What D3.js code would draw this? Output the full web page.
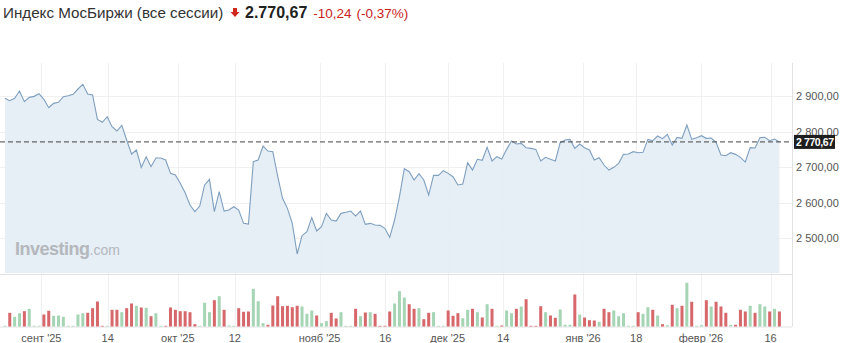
<!DOCTYPE html>
<html>
<head>
<meta charset="utf-8">
<script src="https://cdn.jsdelivr.net/npm/d3@7"></script>
<style>
  body { margin: 0; background: #fff; }
  svg { display: block; font-family: "Liberation Sans", Arial, sans-serif; }
</style>
</head>
<body>
<svg id="chart" width="843" height="343"></svg>
<script>
// closing values per session (index 0 .. 159)
var closes = [
  2893.4, 2886.8, 2893.4, 2914.0, 2884.0, 2896.2, 2899.0, 2906.5, 2890.6, 2867.1,
  2879.3, 2882.1, 2898.1, 2900.9, 2904.7, 2919.7, 2932.8, 2905.6, 2902.8, 2834.2,
  2825.8, 2841.7, 2813.6, 2801.4, 2817.3, 2776.0, 2736.6, 2747.8, 2699.0, 2729.1,
  2700.9, 2725.3, 2725.3, 2719.7, 2682.1, 2677.4, 2654.0, 2627.6, 2592.9, 2574.1,
  2590.1, 2649.3, 2665.2, 2574.1, 2630.5, 2576.0, 2578.8, 2588.2, 2578.8, 2541.3,
  2539.4, 2715.0, 2719.7, 2759.1, 2745.0, 2743.1, 2674.6, 2611.7, 2583.5, 2541.3,
  2454.9, 2506.5, 2517.8, 2557.2, 2519.7, 2531.9, 2569.4, 2550.7, 2547.8, 2569.4,
  2572.3, 2576.0, 2561.9, 2576.0, 2538.4, 2541.3, 2536.6, 2535.6, 2527.2, 2501.8,
  2550.7, 2616.4, 2695.3, 2686.8, 2663.3, 2681.2, 2663.3, 2621.1, 2676.5, 2676.5,
  2689.6, 2682.1, 2672.7, 2649.3, 2652.1, 2712.2, 2691.5, 2721.6, 2719.0, 2755.4,
  2716.9, 2729.1, 2722.5, 2749.7, 2773.2, 2764.7, 2766.6, 2754.4, 2752.5, 2749.7,
  2716.9, 2727.2, 2721.6, 2716.9, 2768.5, 2776.0, 2777.9, 2752.5, 2764.7, 2754.4,
  2747.8, 2719.7, 2726.2, 2705.6, 2691.5, 2699.0, 2710.3, 2735.6, 2736.6, 2743.1,
  2740.3, 2741.3, 2777.9, 2774.1, 2787.3, 2779.8, 2792.0, 2761.9, 2783.5, 2780.7,
  2818.3, 2777.9, 2782.6, 2788.2, 2780.7, 2781.5, 2769.4, 2733.8, 2731.9, 2740.3,
  2735.6, 2727.2, 2714.0, 2754.4, 2753.5, 2782.6, 2783.5, 2774.1, 2778.8, 2770.67
];

// relative volume per session
var volumes = [
  0.7, 13.7, 9.7, 13.3, 15.3, 17.7, 0.7, 0.7, 12, 15.7,
  10.7, 11, 9.7, 0.7, 0.7, 12, 13.3, 13.7, 18.3, 25,
  0.7, 0.7, 16.7, 16.7, 14.3, 18.3, 23, 20.7, 19, 18.7,
  10.3, 13.3, 0.7, 0.7, 19, 16.7, 15.3, 15.3, 14.3, 2.3,
  0.7, 23.7, 14.3, 26.3, 30.3, 16.7, 1, 0.7, 18.3, 14.7,
  15, 37.7, 25.3, 3.3, 1.7, 21, 30.3, 20.3, 20.7, 19.3,
  20.7, 20, 12.7, 16, 11, 3.3, 5.3, 13.7, 8, 14.3,
  0.7, 0.7, 17.7, 10.3, 14, 14.3, 12.7, 0.7, 0.7, 15,
  23, 35.3, 29, 22.3, 17.7, 18.3, 7.3, 13.7, 14.3, 0.7,
  0.7, 16, 10.7, 13.3, 8.3, 16.7, 17.7, 14.3, 9, 22.3,
  17.7, 0.7, 1, 16, 13.3, 17.7, 20, 27.3, 0.7, 0.7,
  20.3, 14.3, 11, 8.7, 17, 1.7, 1.7, 32, 12, 9,
  6.3, 6, 4.7, 17.7, 14.3, 16, 10.3, 13.3, 0.7, 0.7,
  14.3, 12.7, 19.3, 16.7, 11, 2.3, 1.3, 21.7, 18.3, 20.7,
  43.7, 24.7, 0.7, 1.3, 26.3, 20, 24.7, 20, 13.7, 1.7,
  1.7, 16.7, 15, 20.7, 13.7, 22.3, 20, 15, 17.7, 15
];

var tickLabels = ["сент '25", "14", "окт '25", "12", "нояб '25", "16", "дек '25", "14", "янв '26", "18", "февр '26", "16"];
var tickPos = [7.5, 21.1, 35.5, 47.2, 64.6, 78.1, 90.9, 102.3, 118.7, 129.6, 142.9, 157.2];

var priceTicks = [2500, 2600, 2700, 2800, 2900];
var lastPrice = 2770.67;
var change = -10.24;
var changePct = -0.37;

var svg = d3.select("#chart");
var axisX = 792, plotBottom = 273, volBase = 326.5;

var x = d3.scaleLinear().domain([0, closes.length - 1]).range([4.9, 779.4]);
var y = d3.scaleLinear().domain([2500, 2900]).range([238, 96]);
var yv = d3.scaleLinear().domain([0, 44]).range([volBase, volBase - 44]);

var ru = d3.formatLocale({decimal: ",", thousands: " ", grouping: [3], currency: ["", ""]});
var fmtAxis = ru.format(",.2f");
var ruHead = d3.formatLocale({decimal: ",", thousands: ".", grouping: [3], currency: ["", ""], minus: "-"});
var fmtHead = ruHead.format(",.2f");

// header
svg.append("text").attr("x", 3).attr("y", 18).attr("font-size", 15.2).attr("fill", "#333")
  .text("Индекс МосБиржи (все сессии)");
svg.append("path")
  .attr("d", "M233,8 h4 v4 h2.5 l-4.5,5 l-4.5,-5 h2.5 z")
  .attr("fill", "#d0281e");
var head2 = svg.append("text").attr("x", 245).attr("y", 18).attr("font-size", 16);
head2.append("tspan").attr("font-weight", "bold").attr("fill", "#222").text(fmtHead(lastPrice));
head2.append("tspan").attr("dx", 6).attr("font-size", 13.5).attr("fill", "#c8231c").text(fmtHead(change));
head2.append("tspan").attr("dx", 5).attr("font-size", 13.5).attr("fill", "#c8231c").text("(" + fmtHead(changePct) + "%)");

// grid
svg.append("g").selectAll("line").data(priceTicks).enter().append("line")
  .attr("x1", 0).attr("x2", axisX)
  .attr("y1", function(d) { return Math.round(y(d)) + 0.5; })
  .attr("y2", function(d) { return Math.round(y(d)) + 0.5; })
  .attr("stroke", "#f0f0f0");
svg.append("g").selectAll("line").data(tickPos).enter().append("line")
  .attr("x1", function(d) { return Math.round(x(d)) + 0.5; })
  .attr("x2", function(d) { return Math.round(x(d)) + 0.5; })
  .attr("y1", 63).attr("y2", volBase)
  .attr("stroke", "#f0f0f0");

// area + line
var area = d3.area()
  .x(function(d, i) { return x(i); })
  .y0(plotBottom)
  .y1(function(d) { return y(d); });
svg.append("path").datum(closes).attr("d", area).attr("fill", "#e3ecf5").attr("opacity", 0.9);
var line = d3.line()
  .x(function(d, i) { return x(i); })
  .y(function(d) { return y(d); });
svg.append("path").datum(closes).attr("d", line)
  .attr("fill", "none").attr("stroke", "#7f9fbe").attr("stroke-width", 1.1);

// watermark
var wm = svg.append("text").attr("x", 15).attr("y", 255).attr("fill", "#b4b8bc");
wm.append("tspan").attr("font-size", 18).attr("font-weight", "bold").attr("letter-spacing", -0.5).text("Investing");
wm.append("tspan").attr("font-size", 14).text(".com");

// panel lines
svg.append("line").attr("x1", 0).attr("x2", axisX).attr("y1", plotBottom + 1.5).attr("y2", plotBottom + 1.5)
  .attr("stroke", "#e2e2e2");
svg.append("line").attr("x1", 0).attr("x2", axisX).attr("y1", volBase + 0.5).attr("y2", volBase + 0.5)
  .attr("stroke", "#e2e2e2");
svg.append("line").attr("x1", axisX + 0.5).attr("x2", axisX + 0.5).attr("y1", 63).attr("y2", volBase)
  .attr("stroke", "#e2e2e2");

// volume bars
svg.append("g").selectAll("rect").data(volumes).enter().append("rect")
  .attr("x", function(d, i) { return x(i) - 1.5; })
  .attr("width", 3)
  .attr("y", function(d) { return yv(d); })
  .attr("height", function(d) { return volBase - yv(d); })
  .attr("fill", function(d, i) {
    return i > 0 && closes[i] < closes[i - 1] ? "#d6676b" : "#a5d5b5";
  });

// dashed last price
svg.append("line").attr("x1", 0).attr("x2", axisX)
  .attr("y1", y(lastPrice)).attr("y2", y(lastPrice))
  .attr("stroke", "#444").attr("stroke-dasharray", "5,3");

// right axis
var yAxis = d3.axisRight(y).tickValues(priceTicks).tickSize(0).tickPadding(4).tickFormat(fmtAxis);
var ga = svg.append("g").attr("transform", "translate(" + axisX + ",0)").call(yAxis);
ga.select(".domain").remove();
ga.selectAll("text").attr("font-size", 11).attr("fill", "#555").attr("font-family", "Liberation Sans, Arial, sans-serif");

// last price tag
svg.append("rect").attr("x", axisX + 2).attr("y", y(lastPrice) - 7).attr("width", 41).attr("height", 14).attr("fill", "#1e1e1e");
svg.append("text").attr("x", axisX + 4).attr("y", y(lastPrice) + 4)
  .attr("font-size", 10.5).attr("font-weight", "bold").attr("letter-spacing", -0.4)
  .attr("fill", "#fff").text(fmtAxis(lastPrice));

// x labels
svg.append("g").selectAll("text").data(tickPos).enter().append("text")
  .attr("x", function(d) { return x(d); })
  .attr("y", 342)
  .attr("text-anchor", "middle")
  .attr("font-size", 11).attr("fill", "#555")
  .text(function(d, i) { return tickLabels[i]; });
</script>
</body>
</html>
